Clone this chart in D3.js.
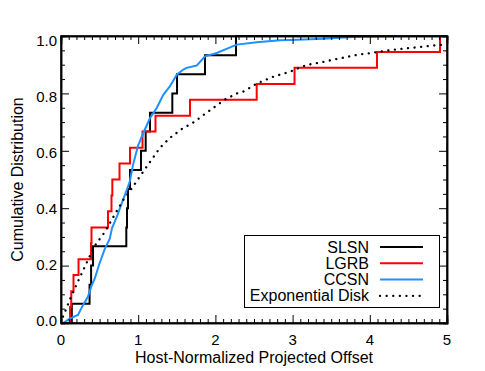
<!DOCTYPE html>
<html lang="en">
<head>
<meta charset="UTF-8">
<script src="https://d3js.org/d3.v7.min.js"></script>
<title>Host-Normalized Offset CDF</title>
<style>
  body { margin: 0; background: #fff; }
  text { font-family: "Liberation Sans", Arial, Helvetica, sans-serif; }
</style>
</head>
<body>
<div id="chart"></div>
<script>
// step positions (host-normalized offset) and cumulative fraction after each step
const slsnOffsets = [0.14, 0.37, 0.39, 0.415, 0.846, 0.855, 0.868, 0.894, 1.036, 1.097, 1.153, 1.442, 1.503, 1.865, 2.267];
const slsnCdf = [0.067, 0.133, 0.2, 0.267, 0.333, 0.4, 0.467, 0.533, 0.6, 0.667, 0.733, 0.8, 0.867, 0.933, 1.0];

const lgrbOffsets = [0.117, 0.133, 0.162, 0.227, 0.389, 0.395, 0.609, 0.654, 0.665, 0.758, 0.894, 1.056, 1.224, 1.671, 2.535, 3.025, 4.093, 4.909];
const lgrbCdf = [0.056, 0.111, 0.167, 0.222, 0.278, 0.333, 0.389, 0.444, 0.5, 0.556, 0.611, 0.667, 0.722, 0.778, 0.833, 0.889, 0.944, 1.0];

const ccsnOffsets = [0.0, 0.03, 0.117, 0.22, 0.272, 0.35, 0.395, 0.44, 0.492, 0.57, 0.631, 0.661, 0.716, 0.764, 0.803, 0.851, 0.89, 0.933, 0.997, 1.066, 1.153, 1.24, 1.325, 1.412, 1.499, 1.584, 1.628, 1.758, 1.865, 2.017, 2.167, 2.276, 2.535, 2.837, 2.966, 3.398, 3.83, 4.434, 5.0];
const ccsnCdf = [0.0, 0.0, 0.016, 0.028, 0.056, 0.092, 0.129, 0.157, 0.202, 0.26, 0.293, 0.331, 0.365, 0.4, 0.429, 0.463, 0.492, 0.551, 0.617, 0.662, 0.714, 0.749, 0.795, 0.825, 0.865, 0.883, 0.889, 0.897, 0.929, 0.941, 0.958, 0.97, 0.978, 0.985, 0.986, 0.99, 0.997, 1.0, 1.0];

const diskOffsets = [0.0, 0.03, 0.07, 0.12, 0.17, 0.22, 0.29, 0.35, 0.44, 0.57, 0.7, 0.81, 0.92, 1.02, 1.15, 1.28, 1.41, 1.56, 1.74, 1.82, 1.97, 2.12, 2.28, 2.36, 2.54, 2.75, 2.97, 3.18, 3.4, 3.61, 3.83, 4.05, 4.26, 4.48, 4.69, 4.91, 5.0];
const diskCdf = [0.0, 0.025, 0.05, 0.085, 0.115, 0.145, 0.185, 0.22, 0.27, 0.318, 0.38, 0.43, 0.47, 0.51, 0.56, 0.61, 0.645, 0.675, 0.703, 0.72, 0.749, 0.778, 0.8, 0.806, 0.835, 0.858, 0.876, 0.899, 0.91, 0.922, 0.934, 0.942, 0.951, 0.957, 0.963, 0.969, 0.971];

const xTicks = [0, 1, 2, 3, 4, 5];
const yTicks = [0, 0.2, 0.4, 0.6, 0.8, 1.0];
const legendNames = ["SLSN", "LGRB", "CCSN", "Exponential Disk"];

const width = 485, height = 371;
const margin = { top: 36, right: 38, bottom: 48, left: 61 };

const svg = d3.select("#chart").append("svg")
    .attr("width", width)
    .attr("height", height);

const x = d3.scaleLinear().domain([0, 5]).range([margin.left, width - margin.right]);
const y = d3.scaleLinear().domain([0, 1]).range([height - margin.bottom, margin.top]);
// tick labels sit slightly inside the end ticks, as in the original
const yLab = d3.scaleLinear().domain([0, 1]).range([320, 40]);

svg.append("defs").append("clipPath").attr("id", "plot")
    .append("rect")
    .attr("x", x(0)).attr("y", y(1) - 1)
    .attr("width", x(5) - x(0)).attr("height", y(0) - y(1) + 2);

const plot = svg.append("g").attr("clip-path", "url(#plot)");

function stepData(offs, cdf) {
    const pts = [[0, 0]];
    offs.forEach((o, i) => pts.push([o, cdf[i]]));
    pts.push([5, cdf[cdf.length - 1]]);
    return pts;
}

const stepLine = d3.line().x(d => x(d[0])).y(d => y(d[1])).curve(d3.curveStepAfter);
const smoothLine = d3.line().x(d => x(d[0])).y(d => y(d[1]));

plot.append("path")
    .attr("d", stepLine(stepData(slsnOffsets, slsnCdf)))
    .attr("fill", "none").attr("stroke", "#000").attr("stroke-width", 2);

plot.append("path")
    .attr("d", stepLine(stepData(lgrbOffsets, lgrbCdf)))
    .attr("fill", "none").attr("stroke", "#ff0000").attr("stroke-width", 2);

plot.append("path")
    .attr("d", smoothLine(ccsnOffsets.map((o, i) => [o, ccsnCdf[i]])))
    .attr("fill", "none").attr("stroke", "#1e90ff").attr("stroke-width", 2);

plot.append("path")
    .attr("d", smoothLine(diskOffsets.map((o, i) => [o, diskCdf[i]])))
    .attr("fill", "none").attr("stroke", "#000").attr("stroke-width", 2.3)
    .attr("stroke-linecap", "round")
    .attr("stroke-dasharray", "0.1,6.5");

// axes: inward ticks on all four sides
const frame = svg.append("g");
const xMinor = d3.range(0, 5.001, 0.1).filter(v => Math.abs(v - Math.round(v)) > 0.01);
const yMinor = d3.range(0, 1.001, 0.05).filter(v => Math.abs(v * 5 - Math.round(v * 5)) > 0.01);

frame.append("g").attr("transform", `translate(0,${y(0)})`)
    .call(d3.axisTop(x).tickValues(xTicks).tickSize(8).tickFormat(""));
frame.append("g").attr("transform", `translate(0,${y(0)})`)
    .call(d3.axisTop(x).tickValues(xMinor).tickSize(4).tickFormat(""));
frame.append("g").attr("transform", `translate(0,${y(1)})`)
    .call(d3.axisBottom(x).tickValues(xTicks).tickSize(8).tickFormat(""));
frame.append("g").attr("transform", `translate(0,${y(1)})`)
    .call(d3.axisBottom(x).tickValues(xMinor).tickSize(4).tickFormat(""));
frame.append("g").attr("transform", `translate(${x(0)},0)`)
    .call(d3.axisRight(y).tickValues(yTicks).tickSize(8).tickFormat(""));
frame.append("g").attr("transform", `translate(${x(0)},0)`)
    .call(d3.axisRight(y).tickValues(yMinor).tickSize(4).tickFormat(""));
frame.append("g").attr("transform", `translate(${x(5)},0)`)
    .call(d3.axisLeft(y).tickValues(yTicks).tickSize(8).tickFormat(""));
frame.append("g").attr("transform", `translate(${x(5)},0)`)
    .call(d3.axisLeft(y).tickValues(yMinor).tickSize(4).tickFormat(""));

frame.selectAll(".domain").attr("stroke", "#000").attr("stroke-width", 1.5);
frame.selectAll(".tick line").attr("stroke", "#000").attr("stroke-width", 1);

svg.append("rect")
    .attr("x", x(0)).attr("y", y(1))
    .attr("width", x(5) - x(0)).attr("height", y(0) - y(1))
    .attr("fill", "none").attr("stroke", "#000").attr("stroke-width", 1.5);

// tick labels
svg.selectAll(".xlab").data(xTicks).enter().append("text")
    .attr("x", d => x(d)).attr("y", y(0) + 22)
    .attr("text-anchor", "middle").attr("font-size", "15px")
    .text(d => d);

svg.selectAll(".ylab").data(yTicks).enter().append("text")
    .attr("x", x(0) - 4).attr("y", d => yLab(d) + 5.5)
    .attr("text-anchor", "end").attr("font-size", "15px")
    .text(d => d.toFixed(1));

svg.append("text")
    .attr("x", (x(0) + x(5)) / 2).attr("y", 363)
    .attr("text-anchor", "middle").attr("font-size", "16px")
    .text("Host-Normalized Projected Offset");

svg.append("text")
    .attr("transform", `translate(23,${(y(0) + y(1)) / 2}) rotate(-90)`)
    .attr("text-anchor", "middle").attr("font-size", "16px")
    .text("Cumulative Distribution");

// legend
const legend = svg.append("g");
legend.append("rect")
    .attr("x", 244.5).attr("y", 235.5).attr("width", 195).attr("height", 72)
    .attr("fill", "#fff").attr("stroke", "#000").attr("stroke-width", 1);

const legendStyles = [
    { stroke: "#000", dash: null },
    { stroke: "#ff0000", dash: null },
    { stroke: "#1e90ff", dash: null },
    { stroke: "#000", dash: "0.1,6.5" }
];

legendNames.forEach((name, i) => {
    const ly = 247 + i * 16.3;
    legend.append("text")
        .attr("x", 369).attr("y", ly + 5.5)
        .attr("text-anchor", "end").attr("font-size", "16px")
        .text(name);
    const ln = legend.append("line")
        .attr("x1", 380).attr("x2", 423).attr("y1", ly).attr("y2", ly)
        .attr("stroke", legendStyles[i].stroke).attr("stroke-width", 2);
    if (legendStyles[i].dash) {
        ln.attr("stroke-dasharray", legendStyles[i].dash).attr("stroke-linecap", "round").attr("stroke-width", 2.3);
    }
});
</script>
</body>
</html>
